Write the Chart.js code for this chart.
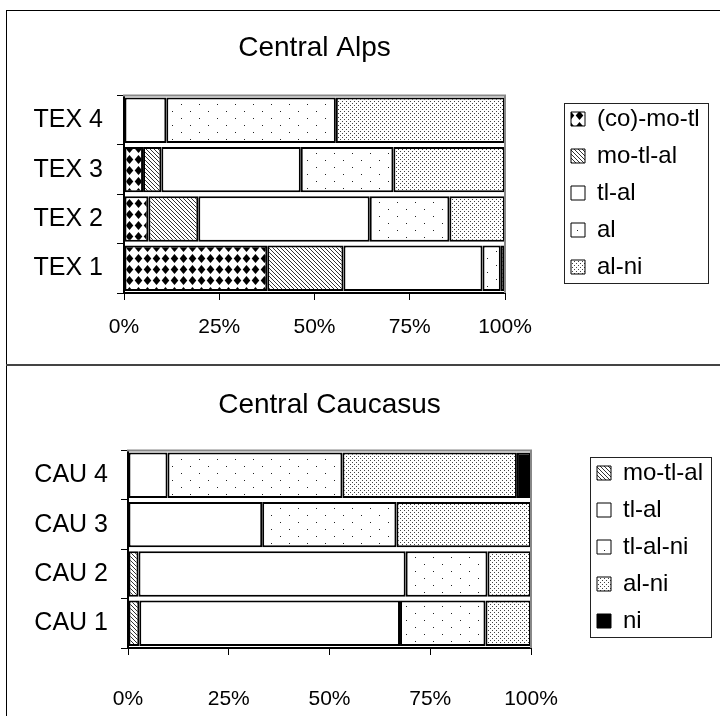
<!DOCTYPE html>
<html>
<head>
<meta charset="utf-8">
<script src="https://cdn.jsdelivr.net/npm/chart.js@4.4.1/dist/chart.umd.min.js"></script>
<style>
  html, body { margin: 0; padding: 0; background: #fff; }
  body { width: 720px; height: 716px; position: relative; overflow: hidden; }
  .line { position: absolute; background: #000; }
  canvas { position: absolute; }
</style>
</head>
<body>
<div class="line" style="left:6px;top:10px;width:1px;height:706px"></div>
<div class="line" style="left:6px;top:10px;width:714px;height:1px"></div>
<div class="line" style="left:6px;top:364px;width:714px;height:2px;background:#444"></div>
<canvas id="alps" width="712" height="352" style="left:8px;top:11px"></canvas>
<canvas id="caucasus" width="712" height="350" style="left:8px;top:366px"></canvas>
<script>
// --- data ---
const tickLabels = ["0%", "25%", "50%", "75%", "100%"];

const alpsSites = ["TEX 4", "TEX 3", "TEX 2", "TEX 1"];
const alpsSeries = ["(co)-mo-tl", "mo-tl-al", "tl-al", "al", "al-ni"];
const alpsCoMoTl = [0, 5.0, 6.4, 37.6];
const alpsMoTlAl = [0, 4.8, 13.1, 20.0];
const alpsTlAl = [11.1, 36.6, 45.0, 36.5];
const alpsAl = [44.5, 24.3, 20.9, 4.8];
const alpsAlNi = [44.4, 29.3, 14.6, 1.1];

const cauSites = ["CAU 4", "CAU 3", "CAU 2", "CAU 1"];
const cauSeries = ["mo-tl-al", "tl-al", "tl-al-ni", "al-ni", "ni"];
const cauMoTlAl = [0, 0, 2.6, 2.8];
const cauTlAl = [9.8, 33.3, 66.3, 64.7];
const cauTlAlNi = [43.4, 33.3, 20.3, 21.2];
const cauAlNi = [43.3, 33.4, 10.8, 11.3];
const cauNi = [3.5, 0, 0, 0];

Chart.defaults.font.family = "'Liberation Sans', Arial, sans-serif";
Chart.defaults.color = "#000";

// fill patterns (black & white like the original)
function pattern(kind) {
  const c = document.createElement("canvas");
  const g = c.getContext("2d");
  if (kind === "diamond") {
    c.width = 9; c.height = 11;
    g.fillStyle = "#fff"; g.fillRect(0, 0, 9, 11);
    g.fillStyle = "#000";
    g.beginPath();
    g.moveTo(4.5, 1); g.lineTo(8.3, 5.5); g.lineTo(4.5, 10); g.lineTo(0.7, 5.5);
    g.closePath(); g.fill();
  } else if (kind === "hatch") {
    c.width = 4; c.height = 4;
    g.fillStyle = "#fff"; g.fillRect(0, 0, 4, 4);
    g.fillStyle = "#333";
    for (let i = 0; i < 4; i++) g.fillRect(i, i, 1, 1);
  } else if (kind === "dots") {
    c.width = 18; c.height = 14;
    g.fillStyle = "#fff"; g.fillRect(0, 0, 18, 14);
    g.fillStyle = "#222";
    g.fillRect(2, 2, 1, 1); g.fillRect(11, 9, 1, 1);
  } else if (kind === "dense") {
    c.width = 4; c.height = 4;
    g.fillStyle = "#fff"; g.fillRect(0, 0, 4, 4);
    g.fillStyle = "#444";
    g.fillRect(0, 0, 1, 1); g.fillRect(2, 2, 1, 1);
  }
  return g.createPattern(c, "repeat");
}

const DIAMOND = pattern("diamond");
const HATCH = pattern("hatch");
const DOTS = pattern("dots");
const DENSE = pattern("dense");

function makeDatasets(names, values, fills) {
  return names.map((name, i) => ({
    label: name,
    data: values[i],
    backgroundColor: fills[i],
    borderColor: "#000",
    borderWidth: 2,
    borderSkipped: false,
    barPercentage: 0.92,
    categoryPercentage: 1,
  }));
}

// gray frame on top/right of the plot area + box around the legend
const framePlugin = {
  id: "frames",
  afterDraw(chart) {
    const ctx = chart.ctx;
    const a = chart.chartArea;
    ctx.save();
    ctx.strokeStyle = "#888";
    ctx.lineWidth = 2;
    ctx.beginPath();
    ctx.moveTo(a.left - 1, a.top);
    ctx.lineTo(a.right, a.top);
    ctx.lineTo(a.right, a.bottom);
    ctx.stroke();

    const hb = chart.legend.legendHitBoxes;
    if (hb && hb.length) {
      const first = hb[0], last = hb[hb.length - 1];
      const left = first.left - 7;
      const right = Math.max(...hb.map(h => h.left + h.width)) + 8;
      const top = first.top - 4;
      const bottom = last.top + last.height + 4;
      ctx.strokeStyle = "#222";
      ctx.lineWidth = 1;
      ctx.strokeRect(Math.round(left) + 0.5, Math.round(top) + 0.5, Math.round(right - left), Math.round(bottom - top));
    }
    ctx.restore();
  },
};

function legendWidth(width) {
  return {
    id: "legendWidth",
    beforeInit(chart) {
      const lg = chart.legend;
      const fit = lg.fit.bind(lg);
      lg.fit = function () { fit(); this.width = width; };
    },
  };
}

function drawPanel(id, title, sites, datasets, o) {
  new Chart(document.getElementById(id), {
    type: "bar",
    data: { labels: sites, datasets: datasets },
    options: {
      indexAxis: "y",
      responsive: false,
      animation: false,
      devicePixelRatio: 1,
      layout: { padding: { top: 12, right: 0, bottom: 0, left: 0 } },
      plugins: {
        title: {
          display: true,
          text: title,
          fullSize: false,
          color: "#000",
          font: { size: 28, weight: "normal" },
          padding: { top: o.titleTop, bottom: o.titleBottom },
        },
        legend: {
          position: "right",
          labels: {
            boxWidth: 14,
            boxHeight: 14,
            padding: 13,
            color: "#000",
            font: { size: 24 },
            generateLabels(chart) {
              return Chart.defaults.plugins.legend.labels.generateLabels(chart)
                .map(item => Object.assign(item, { lineWidth: 1 }));
            },
          },
        },
        tooltip: { enabled: false },
      },
      scales: {
        x: {
          stacked: true,
          min: 0,
          max: 100,
          ticks: {
            stepSize: 25,
            padding: o.xPad,
            font: { size: 21 },
            callback: (v) => tickLabels[v / 25],
          },
          grid: { drawOnChartArea: false, tickLength: 7, color: "#000", lineWidth: 1 },
          border: { color: "#000", width: 2 },
          afterFit: (s) => { s.height = o.xHeight; },
        },
        y: {
          stacked: true,
          ticks: { padding: o.yPad, font: { size: 25 } },
          grid: { drawOnChartArea: false, offset: true, tickLength: 7, color: "#000", lineWidth: 1 },
          border: { color: "#000", width: 2 },
          afterFit: (s) => { s.width = o.yWidth; },
        },
        pad: {
          type: "linear",
          position: "right",
          grid: { display: false },
          ticks: { display: false },
          border: { display: false },
          afterFit: (s) => { s.width = 53; },
        },
      },
    },
    plugins: [framePlugin, legendWidth(o.legendWidth)],
  });
}

drawPanel("alps", "Central Alps", alpsSites,
  makeDatasets(alpsSeries,
    [alpsCoMoTl, alpsMoTlAl, alpsTlAl, alpsAl, alpsAlNi],
    [DIAMOND, HATCH, "#fff", DOTS, DENSE]),
  { titleTop: 8, titleBottom: 31, xHeight: 70, xPad: 15, yWidth: 116, yPad: 14, legendWidth: 162 });

drawPanel("caucasus", "Central Caucasus", cauSites,
  makeDatasets(cauSeries,
    [cauMoTlAl, cauTlAl, cauTlAlNi, cauAlNi, cauNi],
    [HATCH, "#fff", DOTS, DENSE, "#000"]),
  { titleTop: 10, titleBottom: 29, xHeight: 68, xPad: 32, yWidth: 120, yPad: 13, legendWidth: 136 });
</script>
</body>
</html>
